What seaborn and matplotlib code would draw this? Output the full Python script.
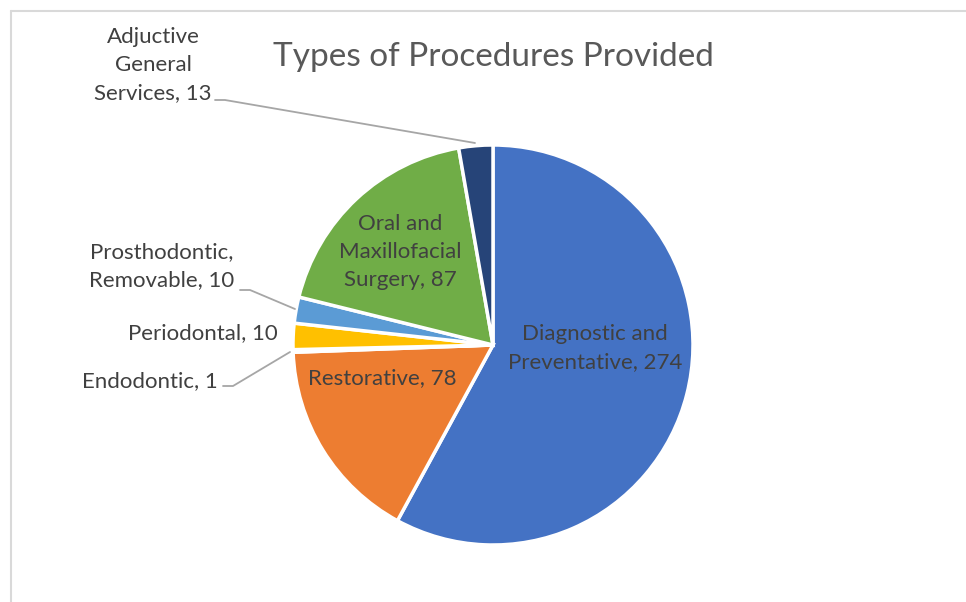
import matplotlib
matplotlib.use("Agg")
import matplotlib.pyplot as plt
from matplotlib.lines import Line2D
import seaborn as sns

# data (clockwise from 12 o'clock)
categories = ["Diagnostic and\nPreventative, 274", "Restorative, 78", "Endodontic, 1",
              "Periodontal, 10", "Prosthodontic,\nRemovable, 10",
              "Oral and\nMaxillofacial\nSurgery, 87", "Adjuctive\nGeneral\nServices, 13"]
values = [274, 78, 1, 10, 10, 87, 13]
colors = ["#4472C4", "#ED7D31", "#A5A5A5", "#FFC000", "#5B9BD5", "#70AD47", "#264478"]

sns.set_theme(style="white")
plt.rcParams['font.family'] = ['Lato', 'DejaVu Sans']

fig = plt.figure(figsize=(9.66, 6.02), dpi=100)
# pie centre at (493, 345) px, radius 200 px
ax = fig.add_axes([289 / 966, 53 / 602, 408 / 966, 408 / 602])

wedges, _ = ax.pie(values, colors=colors, startangle=90, counterclock=False,
                   wedgeprops=dict(edgecolor="white", linewidth=2.5))
ax.set_xlim(-1.02, 1.02)
ax.set_ylim(-1.02, 1.02)
ax.set_aspect("equal")

txt = "#404040"
fs = 16
ls = 1.5

# inside labels
ax.text(0.51, -0.015, categories[0], ha="center", va="center", fontsize=fs, color=txt, linespacing=ls)
ax.text(-0.555, -0.165, categories[1], ha="center", va="center", fontsize=fs, color=txt)
ax.text(-0.465, 0.465, categories[5], ha="center", va="center", fontsize=fs, color=txt, linespacing=ls)

# outside labels with leader lines
lc = "#A6A6A6"
ax.text(-1.70, 1.40, categories[6], ha="center", va="center", fontsize=fs, color=txt,
        linespacing=ls, clip_on=False)
ax.plot([-1.39, -1.34, -0.09], [1.225, 1.225, 1.01], color=lc, lw=1.3, clip_on=False)

ax.text(-1.655, 0.395, categories[4], ha="center", va="center", fontsize=fs, color=txt,
        linespacing=ls, clip_on=False)
ax.plot([-1.265, -1.215, -0.99], [0.275, 0.275, 0.18], color=lc, lw=1.3, clip_on=False)

ax.text(-1.45, 0.06, categories[3], ha="center", va="center", fontsize=fs, color=txt, clip_on=False)

ax.text(-1.715, -0.18, categories[2], ha="center", va="center", fontsize=fs, color=txt, clip_on=False)
ax.plot([-1.35, -1.30, -1.015], [-0.205, -0.205, -0.035], color=lc, lw=1.3, clip_on=False)

fig.text(493 / 966, 1 - 57 / 602, "Types of Procedures Provided", ha="center", va="center",
         fontsize=24, color="#595959")

# chart frame
fig.add_artist(Line2D([11 / 966, 1], [1 - 11 / 602, 1 - 11 / 602], color="#D9D9D9", lw=1.5))
fig.add_artist(Line2D([11 / 966, 11 / 966], [0, 1 - 11 / 602], color="#D9D9D9", lw=1.5))

fig.savefig("out.png", dpi=100)
